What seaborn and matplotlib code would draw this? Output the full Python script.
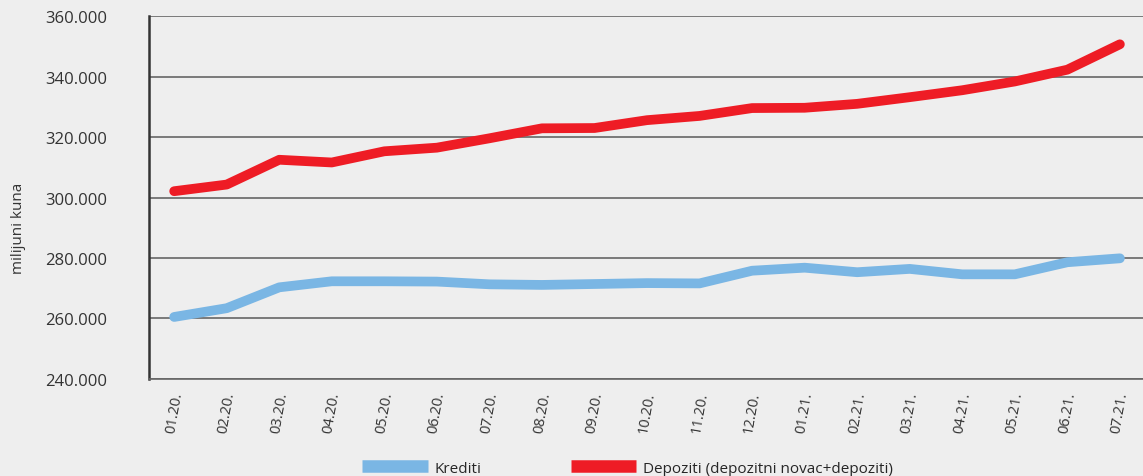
import matplotlib
matplotlib.use("Agg")
import matplotlib.pyplot as plt
from matplotlib.lines import Line2D
import seaborn as sns
import pandas as pd

BG_COLOR = "#eeeeee"
BLUE = "#7ab6e4"
RED = "#ee1c25"
GRID = "#666666"

months = ["01.20.", "02.20.", "03.20.", "04.20.", "05.20.", "06.20.", "07.20.",
          "08.20.", "09.20.", "10.20.", "11.20.", "12.20.", "01.21.", "02.21.",
          "03.21.", "04.21.", "05.21.", "06.21.", "07.21."]
krediti = [260.5, 263.4, 270.3, 272.3, 272.3, 272.2, 271.3, 271.1, 271.4, 271.7,
           271.6, 275.8, 276.8, 275.3, 276.4, 274.6, 274.6, 278.6, 279.9]
depoziti = [302.1, 304.3, 312.5, 311.6, 315.3, 316.5, 319.6, 322.9, 323.0, 325.6,
            327.0, 329.6, 329.7, 331.0, 333.2, 335.5, 338.4, 342.3, 350.7]
y_ticks = [240, 260, 280, 300, 320, 340, 360]

df = pd.DataFrame({
    "mjesec": list(range(len(months))) * 2,
    "iznos": krediti + depoziti,
    "serija": ["Krediti"] * len(months) + ["Depoziti (depozitni novac+depoziti)"] * len(months),
})

sns.set_theme(style="white")
plt.rcParams.update({
    "font.family": ["Open Sans", "DejaVu Sans"],
    "figure.facecolor": BG_COLOR,
    "axes.facecolor": BG_COLOR,
})

fig = plt.figure(figsize=(11.43, 4.77), dpi=100)
ax = fig.add_axes([0.1305, 0.2035, 0.8695, 0.7605])

for y in y_ticks:
    ax.axhline(y, color=GRID, linewidth=1.2, zorder=1)

sns.lineplot(data=df, x="mjesec", y="iznos", hue="serija",
             palette=[BLUE, RED], linewidth=7, ax=ax, legend=False,
             solid_capstyle="round", zorder=3)

ax.set_xlim(-0.476, 18.44)
ax.set_ylim(240, 360)
ax.set_xticks(range(len(months)))
ax.set_xticklabels(months, rotation=80, ha="center", va="top", fontsize=10.5, color="#333333")
ax.set_yticks(y_ticks)
ax.set_yticklabels([f"{v}.000" for v in y_ticks], fontsize=12, color="#333333")
ax.tick_params(axis="y", length=4, width=1.2, color="#333333", pad=26)
ax.tick_params(axis="x", length=0, pad=8)
ax.set_xlabel("")
ax.set_ylabel("milijuni kuna", fontsize=11, color="#333333")
ax.yaxis.set_label_coords(-0.124, 0.419)

for side in ["top", "right"]:
    ax.spines[side].set_visible(False)
ax.spines["left"].set_color("#333333")
ax.spines["left"].set_linewidth(1.8)
ax.spines["bottom"].set_color(GRID)
ax.spines["bottom"].set_linewidth(1.2)

handles = [Line2D([0], [0], color=BLUE, linewidth=9, solid_capstyle="butt"),
           Line2D([0], [0], color=RED, linewidth=9, solid_capstyle="butt")]
fig.legend(handles, ["Krediti", "Depoziti (depozitni novac+depoziti)"],
           loc="lower center", bbox_to_anchor=(0.549, -0.028), ncol=2,
           frameon=False, fontsize=11, handlelength=4.3, columnspacing=5.85,
           handletextpad=0.45)

fig.savefig("out.png", dpi=100, facecolor=BG_COLOR)
